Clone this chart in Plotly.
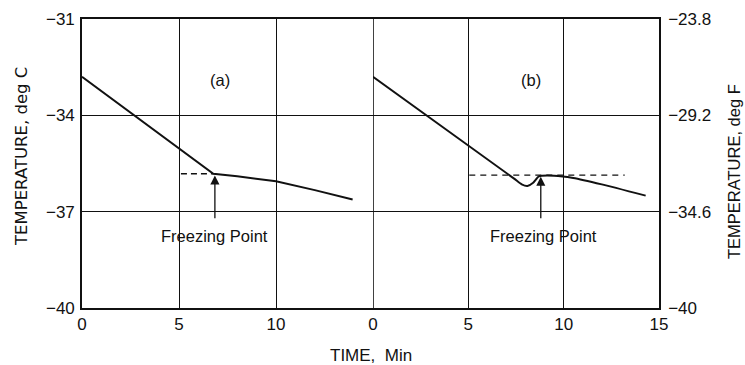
import plotly.graph_objects as go

# ---- data ----
time_a = [0, 6.77, 8, 10, 12, 13.95]
temp_a = [-32.8, -35.82, -35.9, -36.05, -36.33, -36.62]

time_b = [0, 7.4, 7.8, 8.1, 8.4, 8.7, 9.5, 10.5, 12, 14.3]
temp_b = [-32.8, -35.97, -36.15, -36.2, -36.1, -35.9, -35.88, -35.95, -36.15, -36.5]

freeze_a = -35.82
freeze_b = -35.86
dash_a = [5.1, 6.77]
dash_b = [5.05, 13.2]
arrow_x_a = 6.85
arrow_x_b = 8.8

x_ticks_a = [0, 5, 10]
x_ticks_b = [0, 5, 10, 15]
y_ticks = [-31, -34, -37, -40]
y_labels_c = ["\u221231", "\u221234", "\u221237", "\u221240"]
y_labels_f = ["\u221223.8", "\u221229.2", "\u221234.6", "\u221240"]

FONT = "Liberation Sans"
INK = "#111111"

fig = go.Figure()
fig.add_trace(go.Scatter(x=time_a, y=temp_a, mode="lines", xaxis="x", yaxis="y",
                         line=dict(color=INK, width=2), showlegend=False))
fig.add_trace(go.Scatter(x=dash_a, y=[freeze_a, freeze_a], mode="lines", xaxis="x", yaxis="y",
                         line=dict(color=INK, width=1.5, dash="6px,4px"), showlegend=False))
fig.add_trace(go.Scatter(x=time_b, y=temp_b, mode="lines", xaxis="x2", yaxis="y2",
                         line=dict(color=INK, width=2, shape="spline", smoothing=0.5), showlegend=False))
fig.add_trace(go.Scatter(x=dash_b, y=[freeze_b, freeze_b], mode="lines", xaxis="x2", yaxis="y2",
                         line=dict(color=INK, width=1.3, dash="6px,5px"), showlegend=False))

split = 291 / 577
axis_common = dict(showline=True, linecolor=INK, linewidth=1.6,
                   showgrid=True, gridcolor=INK, gridwidth=1.3, zeroline=False,
                   ticks="", tickfont=dict(family=FONT, size=17, color=INK))
fig.update_layout(
    width=745, height=365,
    margin=dict(l=82, r=86, t=19, b=57, autoexpand=False),
    paper_bgcolor="white", plot_bgcolor="white",
    xaxis=dict(domain=[0, split], range=[0, 15], anchor="y", mirror=True,
               tickvals=x_ticks_a, ticktext=[str(v) for v in x_ticks_a], **axis_common),
    xaxis2=dict(domain=[split, 1], range=[0, 15], anchor="y2", mirror=True,
                tickvals=x_ticks_b, ticktext=[str(v) for v in x_ticks_b], **axis_common),
    yaxis=dict(range=[-40, -31], anchor="x", tickvals=y_ticks, ticktext=y_labels_c,
               ticklabelstandoff=2, **axis_common),
    yaxis2=dict(range=[-40, -31], anchor="x2", side="right", tickvals=y_ticks,
                ticktext=y_labels_f, ticklabelstandoff=4, **axis_common),
)

# panel divider
fig.add_shape(type="line", xref="x2", yref="paper", x0=0, x1=0, y0=0, y1=1,
              line=dict(color=INK, width=1.6))

ann_font = dict(family=FONT, size=16.5, color=INK)
for xr, yr, ax_x, fy in [("x", "y", arrow_x_a, freeze_a), ("x2", "y2", arrow_x_b, freeze_b)]:
    fig.add_annotation(x=ax_x, y=fy - 0.05, ax=ax_x, ay=-37.25, xref=xr, yref=yr,
                       axref=xr, ayref=yr, showarrow=True, arrowhead=2, arrowsize=1.4,
                       arrowwidth=1.3, arrowcolor=INK, text="")
    fig.add_annotation(x=ax_x + (0 if xr == "x" else 0.15), y=-37.75, xref=xr, yref=yr,
                       text="Freezing Point", showarrow=False, font=ann_font)

fig.add_annotation(x=7.1, y=-32.9, xref="x", yref="y", text="(a)", showarrow=False, font=ann_font)
fig.add_annotation(x=8.3, y=-32.9, xref="x2", yref="y2", text="(b)", showarrow=False, font=ann_font)

fig.add_annotation(x=0.5, y=-0.165, xref="paper", yref="paper", text="TIME,  Min",
                   showarrow=False, font=dict(family=FONT, size=17, color=INK),
                   xanchor="center", yanchor="middle")
fig.add_annotation(x=(21 - 82) / 577, y=(308 - 157) / 289, xref="paper", yref="paper",
                   text="TEMPERATURE, deg C", textangle=-90, showarrow=False,
                   font=dict(family="DejaVu Sans", size=16.5, color=INK),
                   xanchor="center", yanchor="middle")
fig.add_annotation(x=(734 - 82) / 577, y=(308 - 172) / 289, xref="paper", yref="paper",
                   text="TEMPERATURE, deg F", textangle=-90, showarrow=False,
                   font=dict(family=FONT, size=16.5, color=INK), xanchor="center", yanchor="middle")

fig.write_html("out.html", config={"displayModeBar": False},
               post_script="document.body.style.margin='0';")
